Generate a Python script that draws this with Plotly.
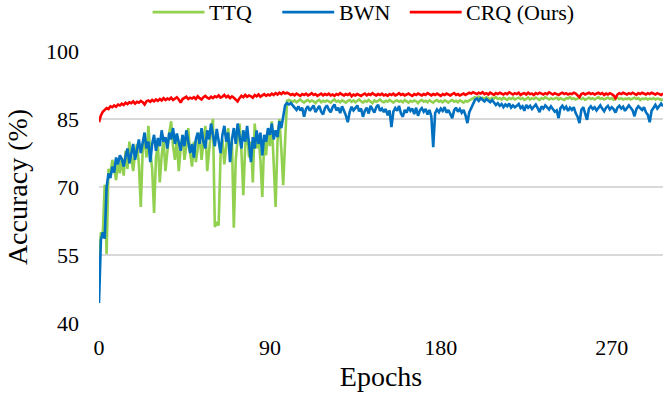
import plotly.graph_objects as go

# Test accuracy per epoch (%)
ttq = [
    53.5, 60.0, 59.5, 70.5, 55.2, 74.0, 72.5, 76.0, 74.0, 71.5,
    75.5, 73.0, 76.5, 72.5, 78.0, 74.0, 80.0, 76.0, 73.5, 77.5,
    79.5, 75.0, 65.6, 78.0, 81.0, 76.5, 83.5, 78.0, 74.0, 64.3,
    76.5, 79.5, 71.0, 77.0, 80.5, 73.5, 78.0, 82.0, 84.5, 79.0,
    76.0, 80.5, 73.5, 78.5, 81.5, 76.0, 79.0, 83.0, 77.5, 74.5,
    80.0, 75.5, 78.5, 82.0, 76.0, 79.5, 83.5, 73.5, 78.0, 82.5,
    85.0, 61.2, 62.0, 61.5, 77.0, 80.5, 75.0, 79.0, 83.0, 77.5,
    80.0, 61.0, 76.0, 80.5, 84.0, 78.0, 68.2, 79.0, 82.5, 76.5,
    80.0, 71.0, 84.0, 78.5, 81.0, 76.0, 67.8, 80.5, 77.0, 82.5,
    79.0, 84.5, 76.5, 65.6, 80.0, 85.0, 78.5, 70.4, 80.0, 89.0,
    89.2, 89.0, 88.8, 89.1, 88.7, 89.0, 89.3, 88.9, 88.6, 89.0,
    89.2, 88.8, 89.1, 88.9, 88.5, 89.0, 89.2, 88.7, 89.0, 88.8,
    89.1, 88.9, 88.6, 89.0, 89.3, 88.8, 89.0, 88.7, 89.1, 88.9,
    88.6, 89.0, 89.2, 88.8, 89.1, 88.7, 89.0, 89.3, 88.9, 88.6,
    89.0, 88.8, 89.2, 88.9, 88.5, 89.1, 88.8, 89.0, 89.3, 88.9,
    88.7, 89.0, 88.8, 89.2, 88.9, 88.6, 89.0, 89.1, 88.8, 89.0,
    88.7, 89.2, 88.9, 88.6, 89.0, 88.8, 89.1, 88.9, 88.5, 89.0,
    89.2, 88.8, 89.0, 88.7, 89.1, 88.9, 88.6, 89.0, 89.2, 88.8,
    89.0, 88.7, 89.1, 88.9, 88.6, 89.0, 89.2, 88.8, 89.0, 88.7,
    89.1, 88.9, 88.6, 89.0, 88.8, 89.1, 89.3, 89.6, 89.8, 89.6,
    89.9, 89.5, 89.7, 89.4, 89.8, 89.6, 89.3, 89.7, 89.5, 89.8,
    89.4, 89.6, 89.3, 89.7, 89.5, 89.2, 89.6, 89.4, 89.7, 89.3,
    89.5, 89.7, 89.4, 89.6, 89.2, 89.5, 89.7, 89.3, 89.6, 89.4,
    89.7, 89.5, 89.2, 89.6, 89.4, 89.8, 89.5, 89.3, 89.6, 89.4,
    89.5, 89.7, 89.3, 89.6, 89.4, 89.2, 89.6, 89.5, 89.8, 89.4,
    89.6, 89.3, 89.5, 89.7, 89.4, 89.6, 89.2, 89.5, 89.7, 89.4,
    89.6, 89.3, 89.5, 89.8, 89.4, 89.6, 89.3, 89.5, 89.7, 89.4,
    89.6, 89.2, 89.5, 89.7, 89.4, 89.6, 89.3, 89.5, 89.4, 89.6,
    89.3, 89.5, 89.7, 89.4, 89.6, 89.2, 89.5, 89.4, 89.6, 89.3,
    89.5, 89.4, 89.6, 89.3, 89.5, 89.4, 89.2, 89.4,
]

bwn = [
    44.4, 58.3, 60.0, 58.6, 70.0, 73.0, 72.0, 74.5, 73.2, 76.5,
    75.0, 77.0, 76.2, 74.5, 76.8, 78.5, 75.2, 77.5, 79.5, 76.0,
    78.8, 80.5, 77.5, 79.8, 82.0, 78.5, 80.0, 75.5, 79.5, 81.5,
    78.0, 80.8, 79.0, 82.5, 80.0, 81.0, 78.5, 82.0, 80.5, 83.0,
    79.5, 81.8, 80.2, 78.0, 81.5, 79.0, 82.5, 80.0, 77.5, 79.5,
    76.5, 80.5, 82.0, 79.5, 83.0, 80.0, 78.5, 82.5, 80.5, 84.0,
    81.0, 79.0, 82.8, 80.2, 77.5, 81.5, 83.5, 80.0, 82.0, 75.5,
    80.5, 83.0, 79.5, 84.0, 81.0, 78.5, 82.5, 80.0, 83.5, 79.0,
    75.5, 81.0, 78.5, 82.5, 79.5, 82.0, 77.0, 81.5, 80.0, 83.0,
    81.5, 84.0, 80.5, 82.5, 81.0, 84.5, 83.0, 85.5, 88.0, 88.5,
    88.2, 88.5, 88.0, 87.6, 87.0, 87.8, 86.9, 87.5, 85.5, 87.2,
    87.8, 86.8, 87.5, 88.0, 86.5, 87.3, 87.9, 86.6, 86.0, 87.4,
    88.0, 87.1, 86.5, 87.6, 88.2, 86.9, 87.5, 86.3, 87.8, 86.8,
    85.8, 84.3, 86.5, 87.7, 86.9, 87.4, 88.0, 86.7, 87.3, 85.5,
    86.8, 87.5, 86.2, 87.9, 87.0, 86.4, 87.6, 88.1, 86.8, 87.3,
    86.5, 87.2, 85.8, 86.9, 83.2, 86.6, 87.4, 86.8, 87.9, 86.2,
    85.5, 87.0, 86.4, 87.6, 86.8, 87.3, 86.1, 87.5, 85.7, 86.9,
    87.4, 86.6, 87.2, 86.0, 87.0, 85.6, 78.8, 86.3, 87.1, 86.5,
    87.3, 86.8, 87.6, 86.4, 87.0, 86.2, 85.2, 86.9, 87.5, 86.6,
    87.2, 86.4, 87.0, 85.8, 84.1, 86.5, 87.3, 88.2, 89.2, 89.5,
    89.0, 89.6, 89.3, 88.9, 89.4, 89.0, 88.7, 89.2, 88.6, 88.1,
    88.5, 87.9, 88.3, 87.6, 88.2, 87.8, 88.4, 87.5, 88.0, 87.6,
    87.9, 88.3, 87.4, 87.8, 86.8, 88.1, 87.5, 87.9, 87.2, 87.7,
    88.2, 87.4, 86.5, 87.8, 87.3, 88.0, 87.5, 87.1, 87.8, 87.3,
    86.6, 86.9, 85.2, 87.4, 87.9, 87.2, 87.7, 86.8, 87.5, 87.0,
    87.6, 86.3, 85.5, 84.1, 87.0, 87.6, 86.2, 84.8, 87.3, 87.8,
    87.2, 87.6, 86.9, 87.4, 88.0, 87.3, 86.7, 87.5, 87.9, 87.1,
    87.6, 87.2, 86.4, 87.5, 87.9, 87.3, 87.7, 86.8, 87.4, 88.0,
    87.5, 86.9, 85.6, 87.2, 87.8, 87.4, 87.0, 87.6, 86.5, 85.9,
    84.3, 86.8, 87.5, 88.1, 87.3, 87.9, 88.4, 87.8,
]

crq = [
    84.3, 85.8, 86.6, 87.0, 87.4, 87.2, 87.8, 87.6, 88.0, 87.7,
    88.2, 88.0, 88.4, 88.1, 88.6, 88.3, 88.7, 88.5, 88.9, 88.4,
    88.8, 88.6, 89.0, 88.7, 88.2, 88.9, 89.1, 88.8, 89.2, 88.9,
    89.3, 89.0, 89.4, 89.1, 89.6, 89.2, 89.5, 89.3, 89.7, 89.2,
    89.5, 89.8, 89.3, 88.6, 89.4, 89.6, 89.9, 89.4, 89.7, 89.5,
    89.8, 89.4, 90.0, 89.6, 89.3, 89.8, 90.1, 89.7, 89.5, 89.9,
    89.6, 90.0, 89.8, 90.2, 89.7, 89.9, 90.3, 89.8, 90.1, 89.6,
    90.0, 89.7, 89.2, 88.9, 89.6, 90.1, 89.8, 90.3, 89.9, 90.2,
    90.0, 89.7, 90.3, 90.0, 90.4, 89.9, 90.2, 90.5, 90.1, 90.4,
    90.2, 90.6, 90.3, 90.7, 90.4, 90.8, 90.5, 90.9, 90.6, 90.8,
    90.6, 90.3, 90.5, 90.2, 90.6, 90.4, 90.1, 90.5, 90.3, 90.6,
    90.2, 90.4, 90.7, 90.3, 90.5, 90.1, 90.4, 90.6, 90.2, 90.5,
    90.3, 90.6, 90.2, 90.4, 90.1, 90.5, 90.3, 90.7, 90.4, 90.2,
    90.5, 90.3, 90.6, 90.0, 90.4, 90.2, 90.5, 90.3, 90.1, 90.4,
    90.6, 90.2, 90.5, 90.3, 90.7, 90.4, 90.2, 90.5, 90.3, 90.6,
    90.2, 90.4, 90.1, 90.5, 90.3, 90.6, 90.2, 90.4, 90.7, 90.3,
    90.5, 90.2, 90.4, 90.6, 90.3, 90.1, 90.5, 90.3, 90.6, 90.4,
    90.2, 90.5, 90.3, 90.7, 90.4, 90.2, 90.5, 90.3, 90.6, 90.4,
    90.1, 90.5, 90.3, 90.6, 90.4, 90.2, 90.5, 90.7, 90.3, 90.5,
    90.2, 90.4, 90.6, 90.3, 90.5, 90.8, 90.6, 90.9, 90.7, 90.5,
    90.8, 90.6, 90.9, 90.5, 90.7, 90.4, 90.8, 90.6, 90.3, 90.7,
    90.5, 90.8, 90.6, 90.4, 90.7, 90.5, 90.9, 90.6, 90.4, 90.7,
    90.5, 90.8, 90.3, 90.6, 90.7, 90.4, 90.8, 90.5, 90.6, 90.3,
    90.7, 90.5, 90.8, 90.6, 90.4, 90.7, 90.5, 90.9, 90.6, 90.4,
    90.7, 90.5, 90.3, 90.6, 90.8, 90.5, 90.7, 90.4, 90.6, 90.5,
    90.8, 90.6, 90.3, 89.8, 90.5, 90.7, 90.4, 90.6, 90.8, 90.5,
    90.7, 90.4, 90.6, 90.8, 90.5, 90.7, 90.3, 90.6, 90.4, 90.7,
    90.5, 90.2, 89.6, 90.4, 90.7, 90.5, 90.8, 90.6, 90.4, 90.7,
    90.5, 90.8, 90.6, 90.3, 90.7, 90.5, 90.8, 90.6, 90.4, 90.7,
    90.5, 90.8, 90.6, 90.4, 90.7, 90.5, 90.3, 90.6,
]

series_names = ["TTQ", "BWN", "CRQ (Ours)"]
series_colors = ["#92D050", "#0070C0", "#FF0000"]
x_ticks = [0, 90, 180, 270]
y_ticks = [40, 55, 70, 85, 100]

font = "Liberation Serif, Times New Roman, serif"

fig = go.Figure()
for name, vals, color in zip(series_names, [ttq, bwn, crq], series_colors):
    fig.add_trace(go.Scatter(x=list(range(len(vals))), y=vals, mode="lines", name=name,
                             line=dict(color=color, width=2.6)))

# legend drawn by hand so the line samples can be as long as in the original
leg_y = 1.143
leg_starts = [0.095, 0.325, 0.551]
for name, color, x0 in zip(series_names, series_colors, leg_starts):
    fig.add_shape(type="line", xref="paper", yref="paper", x0=x0, x1=x0 + 0.092,
                  y0=leg_y, y1=leg_y, line=dict(color=color, width=2.6))
    fig.add_annotation(xref="paper", yref="paper", x=x0 + 0.097, y=leg_y, text=name,
                       showarrow=False, xanchor="left", yanchor="middle",
                       font=dict(size=22))

fig.update_layout(
    width=664, height=397,
    margin=dict(l=99, r=1, t=51, b=74),
    plot_bgcolor="white", paper_bgcolor="white",
    font=dict(family=font, color="black", size=22),
    showlegend=False,
)
fig.update_xaxes(range=[0, 297], tickvals=x_ticks, showgrid=False, zeroline=False,
                 showline=False, ticks="", ticklabelstandoff=9, automargin=False,
                 title=dict(text="Epochs", font=dict(size=28), standoff=7))
fig.update_yaxes(range=[40, 100], tickvals=y_ticks, showgrid=True, gridcolor="#d9d9d9",
                 gridwidth=1.5, zeroline=False, showline=False, ticks="", ticklabelstandoff=19,
                 automargin=False,
                 title=dict(text="Accuracy (%)", font=dict(size=28), standoff=10))

# drop the default page margin so the figure fills the window exactly
fig.write_html("out.html", config={"displayModeBar": False},
               post_script="document.body.style.margin = '0';")
